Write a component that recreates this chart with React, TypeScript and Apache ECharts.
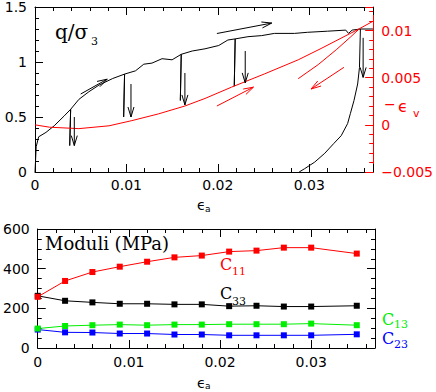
import React, { useEffect, useRef } from 'react';
import * as echarts from 'echarts';

// ---------- Top panel: stress ratio and volumetric strain vs axial strain ----------
// [axial strain, q/sigma3] loading path with unload/reload excursions
const stressLoading: number[][] = [
  [0, 0], [0.00013, 0.23], [0.0004, 0.32], [0.0012, 0.36], [0.0021, 0.42], [0.0032, 0.51], [0.0039, 0.57],
  [0.0038, 0.24], [0.0039, 0.57],
  [0.0048, 0.66], [0.0059, 0.73], [0.0070, 0.79], [0.0085, 0.85], [0.0098, 0.89],
  [0.0097, 0.50], [0.0098, 0.89],
  [0.0110, 0.92], [0.0119, 0.98], [0.0128, 0.99], [0.0139, 1.03], [0.0150, 1.02], [0.0160, 1.07],
  [0.0159, 0.65], [0.0160, 1.07],
  [0.0172, 1.10], [0.0186, 1.12], [0.0201, 1.15], [0.0211, 1.20], [0.0219, 1.21],
  [0.0218, 0.78], [0.0219, 1.21],
  [0.0233, 1.23], [0.0248, 1.24], [0.0262, 1.26], [0.0284, 1.26], [0.0298, 1.27], [0.0320, 1.28],
  [0.0340, 1.29], [0.0343, 1.26], [0.0347, 1.29], [0.0356, 1.30], [0.0370, 1.30],
];
// final unloading [axial strain, q/sigma3]
const stressUnloading: number[][] = [
  [0.0356, 1.30], [0.0355, 0.95], [0.0353, 0.80], [0.0349, 0.65], [0.0345, 0.53], [0.0342, 0.44],
  [0.0335, 0.33], [0.0327, 0.26], [0.0317, 0.17], [0.0306, 0.09], [0.0295, 0.03], [0.0289, 0.0],
];
// [axial strain, -volumetric strain] loading
const volLoading: number[][] = [
  [0, 0], [0.0016, -0.00025], [0.0048, -0.0004], [0.0081, -0.0001], [0.0106, 0.00045], [0.0135, 0.00116],
  [0.0164, 0.0020], [0.0186, 0.0028], [0.0215, 0.0040], [0.0251, 0.0054], [0.0288, 0.0069],
  [0.0313, 0.0081], [0.0355, 0.0102], [0.0370, 0.0110],
];
// [axial strain, -volumetric strain] final unloading
const volUnloading: number[][] = [
  [0.0288, 0.0049], [0.0310, 0.0064], [0.0330, 0.0080], [0.0345, 0.0093], [0.0355, 0.0102],
];
// arrows [x1, y1, x2, y2] in data units
const stressArrows: number[][] = [
  [0.0050, 0.709, 0.0079, 0.844],
  [0.0199, 1.259, 0.0259, 1.354],
  [0.0043, 0.50, 0.0043, 0.24],
  [0.0105, 0.80, 0.0105, 0.50],
  [0.0164, 0.90, 0.0164, 0.61],
  [0.0230, 1.10, 0.0230, 0.81],
  [0.0359, 1.22, 0.0359, 0.86],
];
const volArrows: number[][] = [
  [0.0199, 0.0020, 0.0239, 0.0040],
  [0.0338, 0.0061, 0.0302, 0.0038],
];

// ---------- Bottom panel: moduli ----------
const moduliStrain = [0, 0.003, 0.006, 0.009, 0.012, 0.015, 0.018, 0.021, 0.024, 0.027, 0.030, 0.035];
const c11 = [258, 338, 383, 410, 435, 457, 466, 486, 491, 506, 506, 476];
const c33 = [263, 238, 230, 223, 223, 220, 220, 211, 213, 209, 209, 213];
const c13 = [98, 111, 115, 118, 115, 118, 118, 120, 120, 120, 123, 115];
const c23 = [93, 79, 78, 73, 73, 68, 68, 64, 64, 64, 64, 69];

const RED = '#ff0000';
const GREEN = '#00ee00';
const BLUE = '#0000ff';
const SANS = 'DejaVu Sans';
const SERIF = 'DejaVu Serif';

const fmt = (v: number) => {
  if (Math.abs(v) < 1e-12) return '0';
  return parseFloat(v.toPrecision(6)).toString().replace('-', '\u2212');
};

const axisStyle = (color: string, split: number, showLabel: boolean, margin = 8, showMax = false) => ({
  axisLine: { show: true, onZero: false, lineStyle: { color, width: 1 } },
  axisTick: { show: true, inside: true, length: 8, lineStyle: { color, width: 1 } },
  minorTick: { show: true, splitNumber: split, length: 4, lineStyle: { color, width: 1 } },
  splitLine: { show: false },
  minorSplitLine: { show: false },
  axisLabel: {
    show: showLabel,
    formatter: fmt,
    color,
    fontFamily: SANS,
    fontSize: 14,
    margin,
    showMaxLabel: showMax,
  },
});

const arrowRender = (color: string) => (params: any, api: any) => {
  const p1 = api.coord([api.value(0), api.value(1)]);
  const p2 = api.coord([api.value(2), api.value(3)]);
  const dx = p2[0] - p1[0];
  const dy = p2[1] - p1[1];
  const len = Math.hypot(dx, dy) || 1;
  const ux = dx / len;
  const uy = dy / len;
  const hl = 10;
  const hw = 3;
  const b1 = [p2[0] - ux * hl - uy * hw, p2[1] - uy * hl + ux * hw];
  const b2 = [p2[0] - ux * hl + uy * hw, p2[1] - uy * hl - ux * hw];
  return {
    type: 'group',
    children: [
      { type: 'line', shape: { x1: p1[0], y1: p1[1], x2: p2[0], y2: p2[1] }, style: { stroke: color, lineWidth: 1 } },
      { type: 'polyline', shape: { points: [b1, p2, b2] }, style: { stroke: color, fill: 'none', lineWidth: 1 } },
    ],
  };
};

const txt = (text: string, x: number, y: number, size: number, color: string, family: string) => ({
  type: 'text',
  x,
  y,
  style: { text, fill: color, fontSize: size, fontFamily: family, align: 'left', verticalAlign: 'middle' },
});

export default function App() {
  const ref = useRef<HTMLDivElement>(null);
  useEffect(() => {
    if (!ref.current) return;
    const chart = echarts.init(ref.current, undefined, { renderer: 'svg' });
    const lineBase = { type: 'line', showSymbol: false, symbol: 'none', z: 3 };
    const modSeries = (name: string, vals: number[], color: string) => ({
      name,
      type: 'line',
      xAxisIndex: 2,
      yAxisIndex: 2,
      data: moduliStrain.map((x, i) => [x, vals[i]]),
      symbol: 'rect',
      symbolSize: 6,
      showSymbol: true,
      itemStyle: { color },
      lineStyle: { color, width: 1 },
    });
    chart.setOption({
      animation: false,
      backgroundColor: '#fff',
      grid: [
        { left: 35, top: 5, right: 60, bottom: 220 },
        { left: 35, top: 229, right: 61, bottom: 44 },
      ],
      xAxis: [
        { type: 'value', gridIndex: 0, position: 'bottom', min: 0, max: 0.037, interval: 0.01, ...axisStyle('#000', 5, true, 6) },
        { type: 'value', gridIndex: 0, position: 'top', min: 0, max: 0.037, interval: 0.01, ...axisStyle('#000', 5, false) },
        { type: 'value', gridIndex: 1, position: 'bottom', min: 0, max: 0.037, interval: 0.01, ...axisStyle('#000', 5, true, 7) },
        { type: 'value', gridIndex: 1, position: 'top', min: 0, max: 0.037, interval: 0.01, ...axisStyle('#000', 5, false) },
      ],
      yAxis: [
        { type: 'value', gridIndex: 0, position: 'left', min: 0, max: 1.5, interval: 0.5, ...axisStyle('#000', 5, true, 8, true) },
        { type: 'value', gridIndex: 0, position: 'right', min: -0.005, max: 0.0125, interval: 0.005, ...axisStyle(RED, 5, true, 8) },
        { type: 'value', gridIndex: 1, position: 'left', min: 0, max: 600, interval: 200, ...axisStyle('#000', 4, true, 8, true) },
        { type: 'value', gridIndex: 1, position: 'right', min: 0, max: 600, interval: 200, ...axisStyle('#000', 4, false) },
      ],
      series: [
        { ...lineBase, name: 'q/σ3 loading', xAxisIndex: 0, yAxisIndex: 0, data: stressLoading, lineStyle: { color: '#000', width: 1 } },
        { ...lineBase, name: 'q/σ3 unloading', xAxisIndex: 0, yAxisIndex: 0, data: stressUnloading, lineStyle: { color: '#000', width: 1 } },
        { ...lineBase, name: '-εv loading', xAxisIndex: 0, yAxisIndex: 1, data: volLoading, lineStyle: { color: RED, width: 1 } },
        { ...lineBase, name: '-εv unloading', xAxisIndex: 0, yAxisIndex: 1, data: volUnloading, lineStyle: { color: RED, width: 1 } },
        { type: 'custom', name: 'stress arrows', xAxisIndex: 0, yAxisIndex: 0, data: stressArrows, renderItem: arrowRender('#000'), encode: { x: [0, 2], y: [1, 3] }, z: 4 },
        { type: 'custom', name: 'vol arrows', xAxisIndex: 0, yAxisIndex: 1, data: volArrows, renderItem: arrowRender(RED), encode: { x: [0, 2], y: [1, 3] }, z: 4 },
        modSeries('C23', c23, BLUE),
        modSeries('C13', c13, GREEN),
        modSeries('C33', c33, '#000'),
        modSeries('C11', c11, RED),
      ],
      graphic: [
        txt('q/σ', 55, 32, 20, '#000', SERIF),
        txt('3', 91, 41, 11, '#000', SERIF),
        txt('ϵ', 197, 205, 14, '#000', SANS),
        txt('a', 205, 209, 9, '#000', SANS),
        txt('−', 384, 104, 14, RED, SANS),
        txt('ϵ', 398, 106, 16, RED, SANS),
        txt('v', 413, 113, 11, RED, SANS),
        txt('Moduli (MPa)', 45, 243, 18, '#000', SERIF),
        txt('C', 220, 264, 16, RED, SERIF),
        txt('11', 232, 271, 11, RED, SERIF),
        txt('C', 220, 293, 16, '#000', SERIF),
        txt('33', 232, 301, 11, '#000', SERIF),
        txt('C', 382, 319, 16, GREEN, SERIF),
        txt('13', 394, 324, 11, GREEN, SERIF),
        txt('C', 382, 338, 16, BLUE, SERIF),
        txt('23', 394, 344, 11, BLUE, SERIF),
        txt('ϵ', 197, 383, 14, '#000', SANS),
        txt('a', 205, 386, 9, '#000', SANS),
      ],
    });
    return () => chart.dispose();
  }, []);
  return <div ref={ref} style={{ position: 'absolute', left: 0, top: 0, width: 436, height: 392 }} />;
}
